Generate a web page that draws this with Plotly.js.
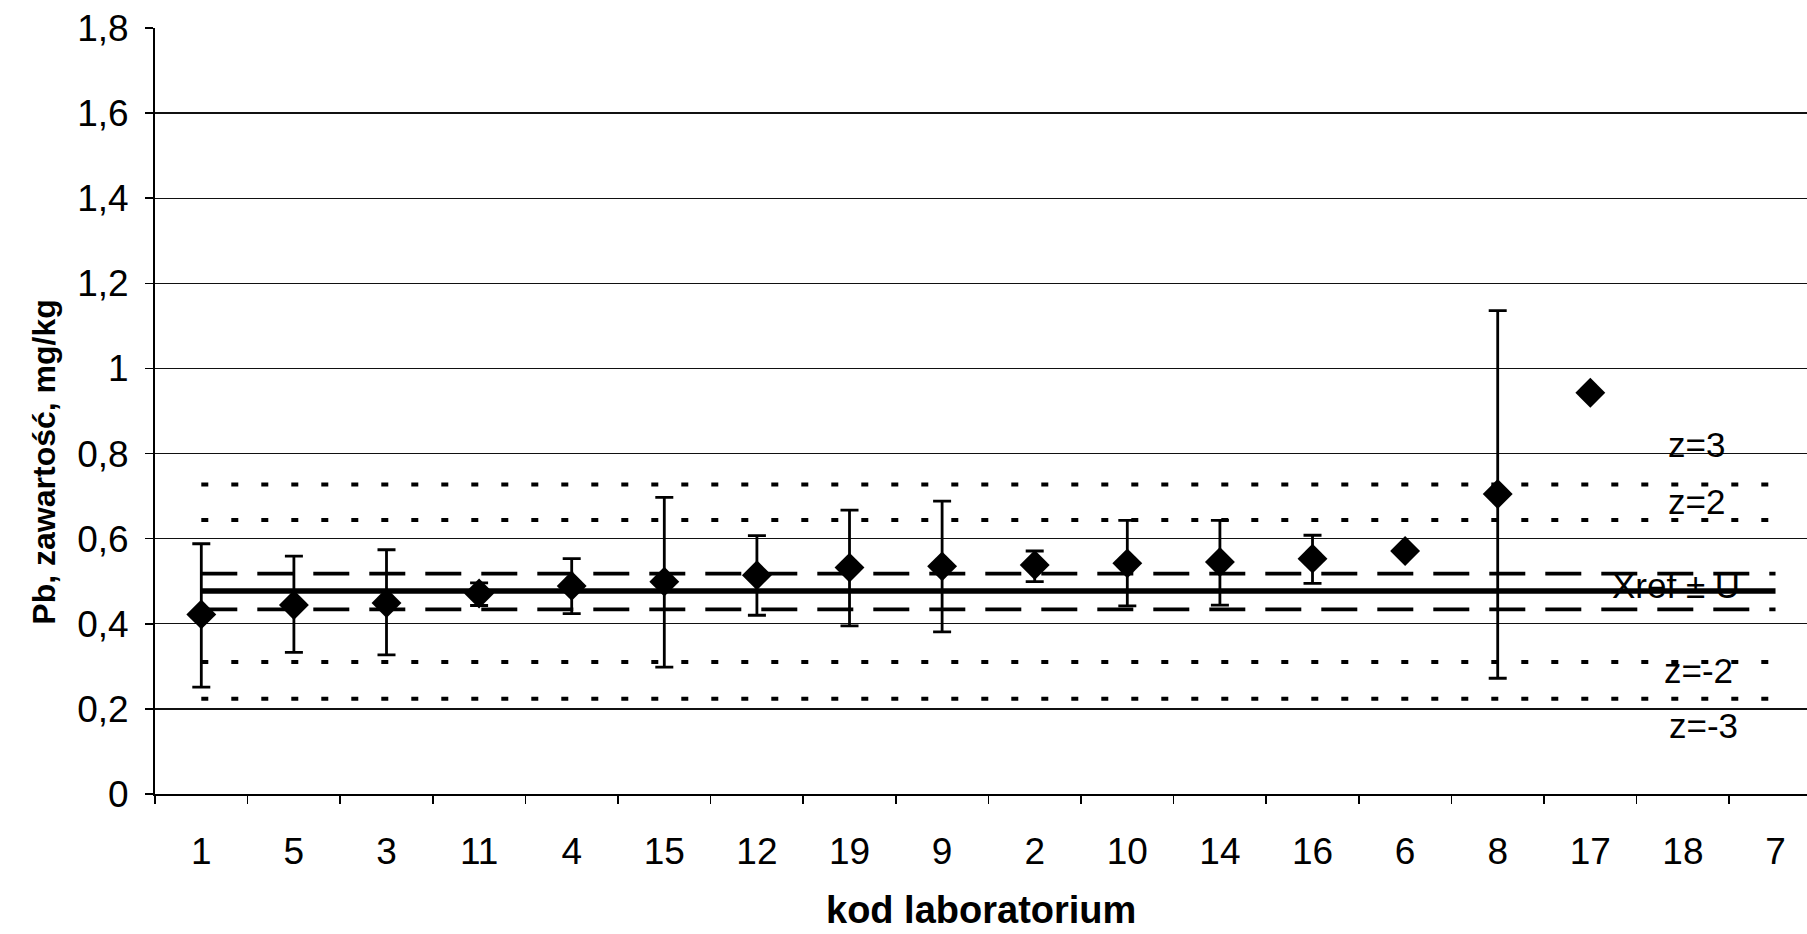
<!DOCTYPE html>
<html>
<head>
<meta charset="utf-8">
<script src="https://cdn.plot.ly/plotly-3.0.1.min.js"></script>
<style>
html, body { margin: 0; padding: 0; background: #ffffff; }
#chart { width: 1807px; height: 934px; }
</style>
</head>
<body>
<div id="chart"></div>
<script>
// ---- data ----
const labCodes   = ['1', '5', '3', '11', '4', '15', '12', '19', '9', '2', '10', '14', '16', '6', '8', '17', '18', '7'];
const pbValues   = [0.422, 0.444, 0.449, 0.471, 0.489, 0.499, 0.514, 0.532, 0.535, 0.538, 0.542, 0.545, 0.553, 0.571, 0.705, 0.943, null, null];
const upperBound = [0.588, 0.559, 0.574, 0.496, 0.553, 0.697, 0.607, 0.667, 0.688, 0.571, 0.643, 0.643, 0.608, null, 1.136, null, null, null];
const lowerBound = [0.251, 0.333, 0.327, 0.443, 0.424, 0.298, 0.420, 0.395, 0.381, 0.499, 0.442, 0.444, 0.495, null, 0.272, null, null, null];

const xrefValue = 0.477;          // Xref
const uBand     = [0.518, 0.434]; // Xref ± U
const z2Band    = [0.644, 0.310]; // z = 2 / z = -2
const z3Band    = [0.727, 0.224]; // z = 3 / z = -3

const yTickVals = [0, 0.2, 0.4, 0.6, 0.8, 1, 1.2, 1.4, 1.6, 1.8];
const yTickText = ['0', '0,2', '0,4', '0,6', '0,8', '1', '1,2', '1,4', '1,6', '1,8'];

const refLabels = ['z=3', 'z=2', 'Xref ± U', 'z=-2', 'z=-3'];

// ---- build traces ----
const xIdx = labCodes.map((_, i) => i);
const xEnds = [0, labCodes.length - 1];
const boundaries = labCodes.map((_, i) => i - 0.5).concat([labCodes.length - 0.5]);

const errPlus  = pbValues.map((v, i) => (v == null || upperBound[i] == null) ? NaN : upperBound[i] - v);
const errMinus = pbValues.map((v, i) => (v == null || lowerBound[i] == null) ? NaN : v - lowerBound[i]);

const dotStyle   = { color: '#000', width: 4, dash: '7px,23px' };
const dashStyle  = { color: '#000', width: 3.8, dash: '36px,20px' };
const solidStyle = { color: '#000', width: 5.5 };

function refLine(level, style) {
  return { x: xEnds, y: [level, level], mode: 'lines', line: style, hoverinfo: 'skip', showlegend: false };
}

const traces = [
  refLine(z3Band[0], dotStyle),
  refLine(z3Band[1], dotStyle),
  refLine(z2Band[0], dotStyle),
  refLine(z2Band[1], dotStyle),
  refLine(uBand[0], dashStyle),
  refLine(uBand[1], dashStyle),
  refLine(xrefValue, solidStyle),
  {
    x: xIdx,
    y: pbValues,
    mode: 'markers',
    marker: { symbol: 'diamond', size: 23, color: '#000' },
    error_y: {
      type: 'data', symmetric: false,
      array: errPlus, arrayminus: errMinus,
      color: '#000', thickness: 2.8, width: 9
    },
    showlegend: false
  }
];

const fontFam = 'Liberation Sans, Arial, Helvetica, sans-serif';
const zFont = { size: 35, family: fontFam, color: '#000' };

const layout = {
  width: 1807,
  height: 934,
  margin: { l: 155, r: 0, t: 28, b: 140, pad: 0 },
  paper_bgcolor: '#ffffff',
  plot_bgcolor: '#ffffff',
  showlegend: false,
  font: { family: fontFam, color: '#000' },
  xaxis: {
    range: [-0.5, 17.34],
    tickmode: 'array',
    tickvals: xIdx,
    ticktext: labCodes,
    ticks: '',
    showgrid: false,
    zeroline: false,
    showline: true,
    linecolor: '#000',
    linewidth: 2,
    tickfont: { size: 37, family: fontFam, color: '#000' },
    ticklabelstandoff: 24,
    minor: {
      tickmode: 'array',
      tickvals: boundaries,
      ticks: 'outside',
      ticklen: 8,
      tickwidth: 1.5,
      tickcolor: '#000',
      showgrid: false
    }
  },
  yaxis: {
    range: [0, 1.8],
    tickmode: 'array',
    tickvals: yTickVals,
    ticktext: yTickText,
    ticks: 'outside',
    ticklen: 8,
    tickwidth: 1.5,
    tickcolor: '#000',
    showgrid: true,
    gridcolor: '#111',
    gridwidth: 1.3,
    zeroline: false,
    showline: true,
    linecolor: '#000',
    linewidth: 2,
    tickfont: { size: 37, family: fontFam, color: '#000' },
    ticklabelstandoff: 9
  },
  annotations: [
    { text: '<b>Pb, zawartość, mg/kg</b>', xref: 'paper', yref: 'paper', x: -0.067, y: 0.433,
      xanchor: 'center', yanchor: 'middle', textangle: -90, showarrow: false,
      font: { size: 32, family: fontFam, color: '#000' } },
    { text: '<b>kod laboratorium</b>', xref: 'paper', yref: 'paper', x: 0.5, y: 0.0,
      yshift: -139, xanchor: 'center', yanchor: 'bottom', showarrow: false,
      font: { size: 38, family: fontFam, color: '#000' } },
    { text: refLabels[0], x: 16.15, y: 0.822, xref: 'x', yref: 'y', showarrow: false, xanchor: 'center', yanchor: 'middle', font: zFont },
    { text: refLabels[1], x: 16.15, y: 0.688, xref: 'x', yref: 'y', showarrow: false, xanchor: 'center', yanchor: 'middle', font: zFont },
    { text: refLabels[2], x: 15.93, y: 0.489, xref: 'x', yref: 'y', showarrow: false, xanchor: 'center', yanchor: 'middle', font: zFont },
    { text: refLabels[3], x: 16.17, y: 0.291, xref: 'x', yref: 'y', showarrow: false, xanchor: 'center', yanchor: 'middle', font: zFont },
    { text: refLabels[4], x: 16.22, y: 0.160, xref: 'x', yref: 'y', showarrow: false, xanchor: 'center', yanchor: 'middle', font: zFont }
  ]
};

Plotly.newPlot('chart', traces, layout, { displayModeBar: false, staticPlot: true });
</script>
</body>
</html>
